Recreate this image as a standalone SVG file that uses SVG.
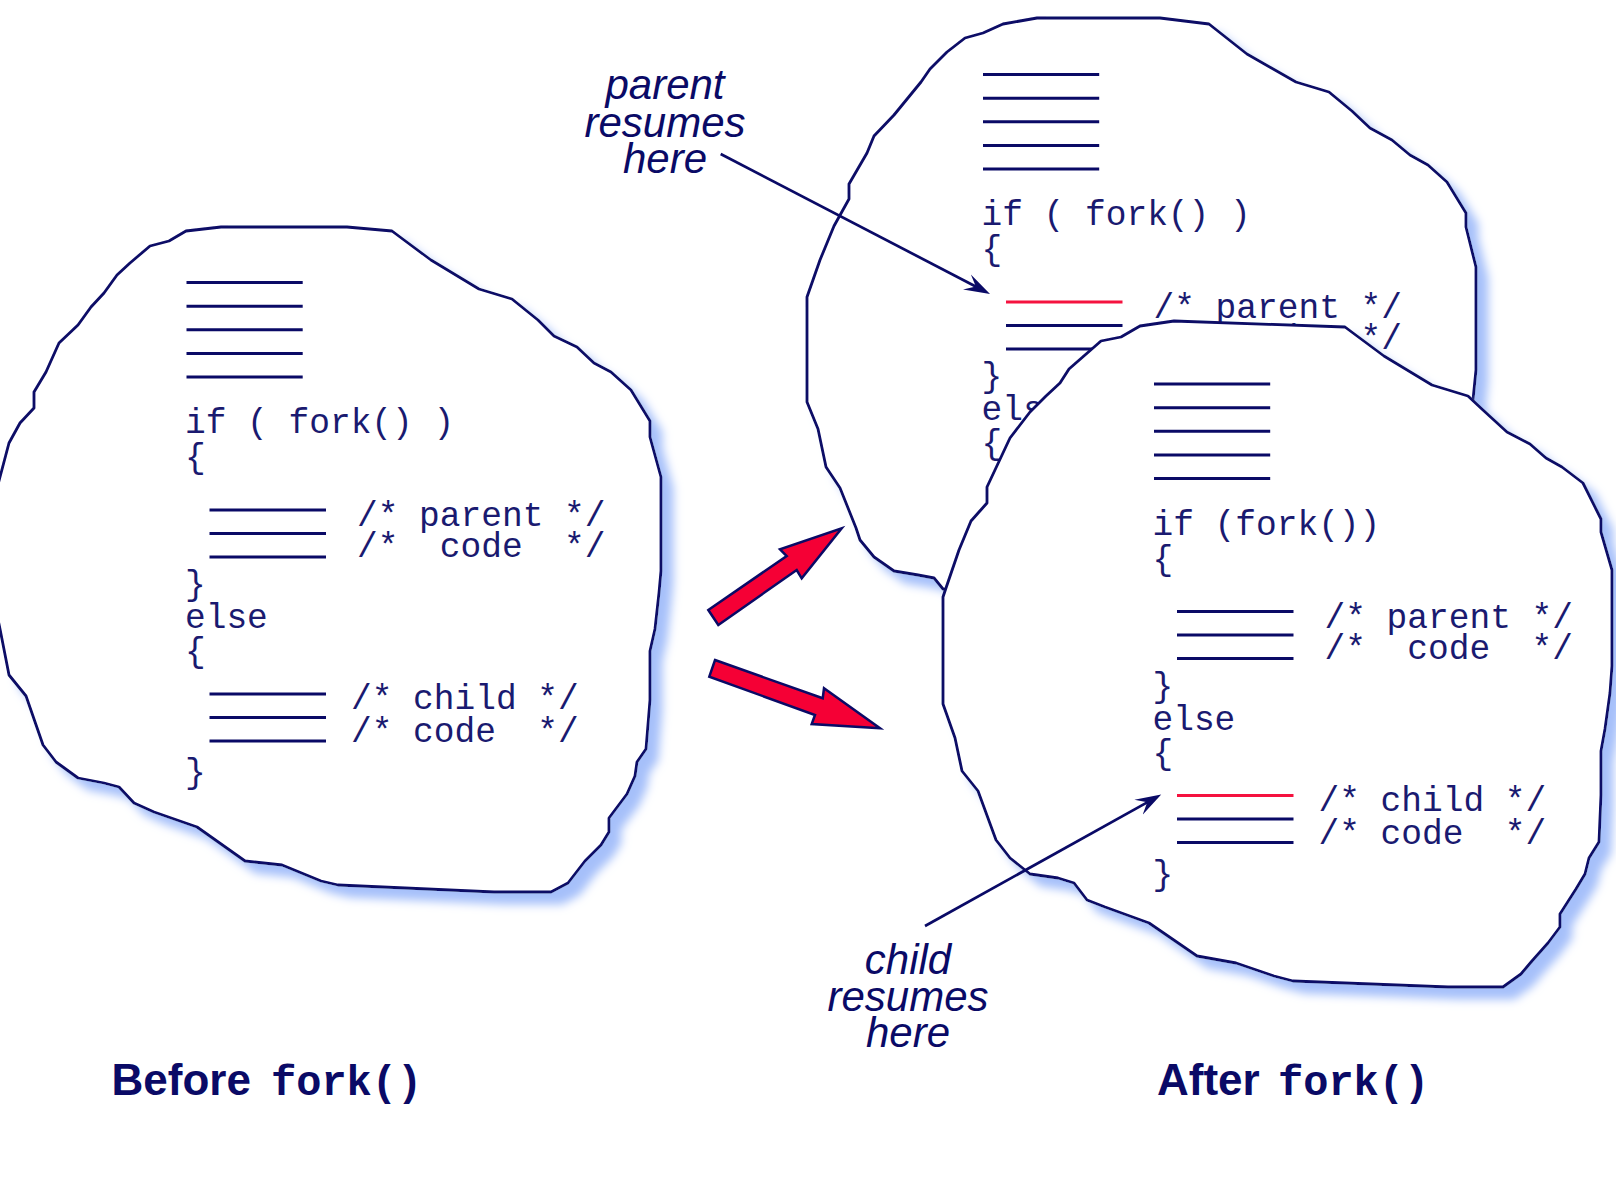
<svg xmlns="http://www.w3.org/2000/svg" width="1616" height="1177" viewBox="0 0 1616 1177">
<defs>
<style>
.blob{fill:#fff;stroke:#0a0a66;stroke-width:2.8;stroke-linejoin:round}
.ln{stroke:#0a0a66;stroke-width:3}
.red{stroke:#f5123f;stroke-width:3}
.code{font-family:"Liberation Mono","Courier New",monospace;font-size:34.5px;fill:#1a1a70;white-space:pre}
.lbl{font-family:"Liberation Sans",Arial,sans-serif;font-style:italic;font-size:42px;fill:#0a0a66;text-anchor:middle}
.title{font-family:"Liberation Sans",Arial,sans-serif;font-weight:bold;font-size:44px;fill:#0a0a66}
.mono{font-family:"Liberation Mono","Courier New",monospace;font-weight:bold;font-size:42px}
.ptr{stroke:#0a0a66;stroke-width:2.7;fill:none}
.big{fill:#f50035;stroke:#0a0a66;stroke-width:2.5;stroke-linejoin:miter}
</style>
<filter id="sh" x="-10%" y="-10%" width="130%" height="130%">
<feGaussianBlur in="SourceAlpha" stdDeviation="5"/>
<feOffset dx="11" dy="11" result="b"/>
<feFlood flood-color="#a6c0fa"/>
<feComposite in2="b" operator="in"/>
<feMerge><feMergeNode/><feMergeNode in="SourceGraphic"/></feMerge>
</filter>
<marker id="ah" markerUnits="userSpaceOnUse" viewBox="0 -10 28 20" refX="12" refY="0" markerWidth="28" markerHeight="20" orient="auto">
<path d="M26,0 L0,-8.5 L10,0 L0,8.5 Z" fill="#0a0a66"/>
</marker>
</defs>

<g id="before">
<path class="blob" filter="url(#sh)" d="M186,231 L221,227 L347,227 L392,231 L431,260 L479,289 L512,299 L538,320 L554,336 L577,347 L594,363 L611,372 L631,390 L650,421 L650,437 L661,477 L661,571 L659,593 L655,629 L650,651 L650,700 L646,749 L637,762 L635,776 L627,794 L609,818 L609,832 L601,845 L585,861 L568,883 L551,892 L494,892 L338,885 L321,881 L282,865 L245,861 L197,827 L154,812 L134,803 L119,787 L104,783 L78,778 L56,762 L43,745 L26,696 L9,675 L0,629 L-6,600 L-6,500 L0,477 L9,443 L20,423 L34,408 L34,392 L46,372 L59,343 L78,325 L91,307 L104,293 L117,275 L130,263 L150,246 L169,241 Z"/>
<g>
<line class="ln" x1="186.5" y1="282.6" x2="302.7" y2="282.6"/>
<line class="ln" x1="186.5" y1="306.2" x2="302.7" y2="306.2"/>
<line class="ln" x1="186.5" y1="329.8" x2="302.7" y2="329.8"/>
<line class="ln" x1="186.5" y1="353.4" x2="302.7" y2="353.4"/>
<line class="ln" x1="186.5" y1="377" x2="302.7" y2="377"/>
<text class="code" xml:space="preserve" x="185" y="433">if ( fork() )</text>
<text class="code" x="185" y="468">{</text>
<line class="ln" x1="209.5" y1="510" x2="326" y2="510"/>
<line class="ln" x1="209.5" y1="533.6" x2="326" y2="533.6"/>
<line class="ln" x1="209.5" y1="557" x2="326" y2="557"/>
<text class="code" xml:space="preserve" x="357" y="526">/* parent */</text>
<text class="code" xml:space="preserve" x="357" y="557">/*  code  */</text>
<text class="code" x="185" y="595">}</text>
<text class="code" x="185" y="628">else</text>
<text class="code" x="185" y="662">{</text>
<line class="ln" x1="209.5" y1="694" x2="326" y2="694"/>
<line class="ln" x1="209.5" y1="717.6" x2="326" y2="717.6"/>
<line class="ln" x1="209.5" y1="741" x2="326" y2="741"/>
<text class="code" xml:space="preserve" x="351" y="709">/* child */</text>
<text class="code" xml:space="preserve" x="351" y="742">/* code  */</text>
<text class="code" x="185" y="783">}</text>
</g>
</g>

<g id="after-parent">
<path class="blob" filter="url(#sh)" d="M1037,18 L1160,18 L1209,24 L1247,54 L1296,82 L1329,92 L1352,111 L1370,128 L1392,140 L1410,155 L1428,165 L1447,182 L1466,213 L1466,227 L1476,267 L1476,370 L1473,400 L1440,440 L1150,500 L1000,560 L960,590 L943,589 L934,578 L918,575 L894,571 L874,557 L860,540 L856,528 L840,488 L826,467 L818,429 L807,402 L807,297 L820,260 L834,226 L849,199 L849,184 L867,153 L874,136 L894,115 L921,82 L930,69 L947,52 L965,38 L983,33 L1003,24 Z"/>
<g transform="translate(796.5,-208)">
<line class="ln" x1="186.5" y1="282.6" x2="302.7" y2="282.6"/>
<line class="ln" x1="186.5" y1="306.2" x2="302.7" y2="306.2"/>
<line class="ln" x1="186.5" y1="329.8" x2="302.7" y2="329.8"/>
<line class="ln" x1="186.5" y1="353.4" x2="302.7" y2="353.4"/>
<line class="ln" x1="186.5" y1="377" x2="302.7" y2="377"/>
<text class="code" xml:space="preserve" x="185" y="433">if ( fork() )</text>
<text class="code" x="185" y="468">{</text>
<line class="red" x1="209.5" y1="510" x2="326" y2="510"/>
<line class="ln" x1="209.5" y1="533.6" x2="326" y2="533.6"/>
<line class="ln" x1="209.5" y1="557" x2="326" y2="557"/>
<text class="code" xml:space="preserve" x="357" y="526">/* parent */</text>
<text class="code" xml:space="preserve" x="357" y="557">/*  code  */</text>
<text class="code" x="185" y="595">}</text>
<text class="code" x="185" y="628">else</text>
<text class="code" x="185" y="662">{</text>
</g>
</g>

<g id="after-child">
<path class="blob" filter="url(#sh)" d="M1174,321 L1345,327 L1384,356 L1432,385 L1468,396 L1483,410 L1507,432 L1530,444 L1546,458 L1562,467 L1583,483 L1601,519 L1601,532 L1612,570 L1612,666 L1610,693 L1605,729 L1601,751 L1601,795 L1599,842 L1589,858 L1585,874 L1576,889 L1560,914 L1560,927 L1548,943 L1532,961 L1521,974 L1503,987 L1448,987 L1293,981 L1274,976 L1236,963 L1197,956 L1149,923 L1105,907 L1087,900 L1074,883 L1058,878 L1030,874 L1010,858 L996,840 L978,791 L962,771 L955,738 L943,704 L943,597 L946,588 L959,550 L971,521 L987,503 L987,487 L1010,438 L1030,412 L1046,396 L1060,383 L1069,369 L1101,341 L1121,337 L1140,326 Z"/>
<g transform="translate(967.5,101.5)">
<line class="ln" x1="186.5" y1="282.6" x2="302.7" y2="282.6"/>
<line class="ln" x1="186.5" y1="306.2" x2="302.7" y2="306.2"/>
<line class="ln" x1="186.5" y1="329.8" x2="302.7" y2="329.8"/>
<line class="ln" x1="186.5" y1="353.4" x2="302.7" y2="353.4"/>
<line class="ln" x1="186.5" y1="377" x2="302.7" y2="377"/>
<text class="code" xml:space="preserve" x="185" y="433">if (fork())</text>
<text class="code" x="185" y="468">{</text>
<line class="ln" x1="209.5" y1="510" x2="326" y2="510"/>
<line class="ln" x1="209.5" y1="533.6" x2="326" y2="533.6"/>
<line class="ln" x1="209.5" y1="557" x2="326" y2="557"/>
<text class="code" xml:space="preserve" x="357" y="526">/* parent */</text>
<text class="code" xml:space="preserve" x="357" y="557">/*  code  */</text>
<text class="code" x="185" y="595">}</text>
<text class="code" x="185" y="628">else</text>
<text class="code" x="185" y="662">{</text>
<line class="red" x1="209.5" y1="694" x2="326" y2="694"/>
<line class="ln" x1="209.5" y1="717.6" x2="326" y2="717.6"/>
<line class="ln" x1="209.5" y1="741" x2="326" y2="741"/>
<text class="code" xml:space="preserve" x="351" y="709">/* child */</text>
<text class="code" xml:space="preserve" x="351" y="742">/* code  */</text>
<text class="code" x="185" y="783">}</text>
</g>
</g>

<g id="label-parent">
<text class="lbl" x="665" y="99">parent</text>
<text class="lbl" x="665" y="137">resumes</text>
<text class="lbl" x="665" y="173">here</text>
</g>
<g id="label-child">
<text class="lbl" x="908" y="974">child</text>
<text class="lbl" x="908" y="1011">resumes</text>
<text class="lbl" x="908" y="1047">here</text>
</g>

<g id="title-before">
<text class="title" x="111.5" y="1095">Before</text>
<text class="title mono" x="271" y="1095">fork()</text>
</g>
<g id="title-after">
<text class="title" x="1157" y="1095">After</text>
<text class="title mono" x="1278" y="1095">fork()</text>
</g>

<g id="connectors">
<polygon class="big" points="708.3,610 786.7,556 780,549.3 841.7,528.3 801.7,578.3 796.7,570 718.3,625"/>
<polygon class="big" points="715,660 822.7,698.3 824,688.3 880,728.3 811.7,724 815,715 709.3,676.7"/>
<line class="ptr" x1="720.7" y1="154" x2="977.6" y2="287.5" marker-end="url(#ah)"/>
<line class="ptr" x1="925" y1="926" x2="1149" y2="801.4" marker-end="url(#ah)"/>
</g>
</svg>
